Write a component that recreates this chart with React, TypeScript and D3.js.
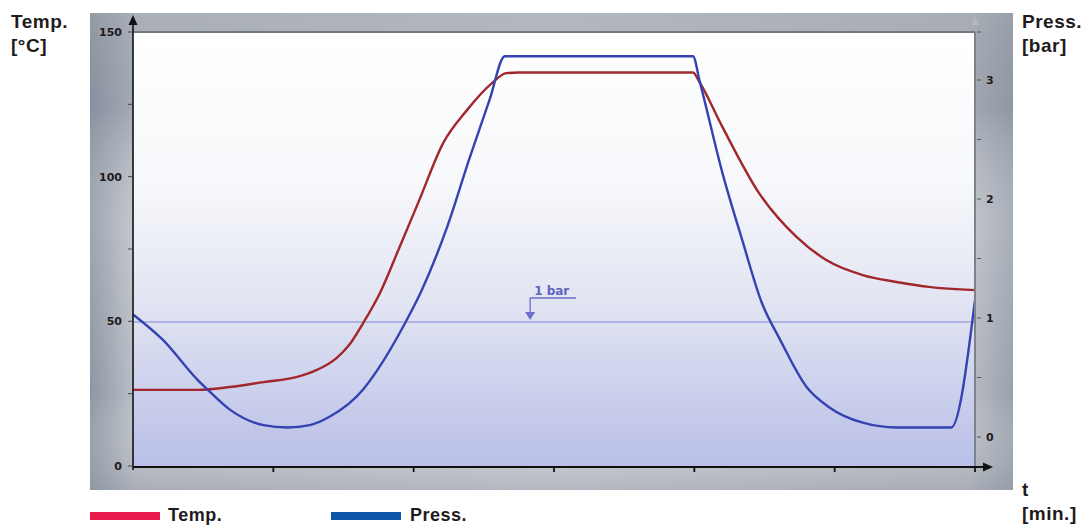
import React from "react";
import * as d3 from "d3";

// ---- data ----
const tempTime = [0, 0.46, 0.69, 0.93, 1.17, 1.31, 1.45, 1.54, 1.64, 1.76, 1.9, 2.04, 2.21, 2.38, 2.56, 2.66, 2.75, 3.99, 4.04, 4.2, 4.46, 4.73, 4.94, 5.2, 5.44, 5.67, 6.0];
const tempValues = [26.3, 26.3, 27.3, 29, 30.8, 33.2, 37.3, 41.8, 49.4, 59.8, 75.7, 91.9, 111.6, 123, 132.4, 135.8, 136, 136, 132.4, 117.2, 94.4, 79.1, 71.2, 66, 63.6, 61.9, 60.8];

const pressTime = [0, 0.21, 0.46, 0.53, 0.69, 0.93, 1.1, 1.26, 1.4, 1.64, 1.74, 1.94, 2.06, 2.24, 2.4, 2.54, 2.65, 3.99, 4.04, 4.2, 4.34, 4.48, 4.61, 4.8, 4.96, 5.2, 5.44, 5.83, 6.0];
const pressValues = [1.03, 0.82, 0.48, 0.4, 0.23, 0.1, 0.08, 0.1, 0.17, 0.4, 0.56, 0.96, 1.24, 1.77, 2.35, 2.83, 3.2, 3.2, 2.98, 2.22, 1.66, 1.13, 0.82, 0.42, 0.25, 0.12, 0.08, 0.08, 1.15];

const tempTicks = [0, 25, 50, 75, 100, 125, 150];
const tempTickLabels = ["0", "", "50", "", "100", "", "150"];
const pressTicks = [0, 0.5, 1, 1.5, 2, 2.5, 3];
const pressTickLabels = ["0", "", "1", "", "2", "", "3"];
const timeTicks = [1, 2, 3, 4, 5, 6];
const refPressure = 1;
const refLabel = "1 bar";

const seriesNames = ["Temp.", "Press."];

export default function App() {
  const W = 1087, H = 526;
  const x0 = 133, x1 = 975, yTop = 32, yBot = 466;
  const x = d3.scaleLinear().domain([0, 6]).range([x0, x1]);
  const yT = d3.scaleLinear().domain([0, 150]).range([yBot, yTop]);
  const yP = d3.scaleLinear().domain([0, 3]).range([437, 80]);

  const tempLine = d3.line<number>()
    .x((_, i) => x(tempTime[i]))
    .y((d) => yT(d))
    .curve(d3.curveMonotoneX)(tempValues) as string;
  const pressLine = d3.line<number>()
    .x((_, i) => x(pressTime[i]))
    .y((d) => yP(d))
    .curve(d3.curveMonotoneX)(pressValues) as string;

  const refY = yP(refPressure) + 4;
  const refX = x(2.83);
  const tickFont = "'DejaVu Sans', sans-serif";
  const headFont = "'Liberation Sans', Arial, Helvetica, sans-serif";
  const dark = "#1f1b1c";

  return (
    <svg width={W} height={H} style={{ position: "absolute", left: 0, top: 0, display: "block" }}>
      <defs>
        <linearGradient id="panelH" x1="0" x2="1" y1="0" y2="0">
          <stop offset="0" stopColor="#8d96a5" />
          <stop offset="0.05" stopColor="#bcc0c7" />
          <stop offset="0.5" stopColor="#cdd0d5" />
          <stop offset="0.95" stopColor="#b9bdc4" />
          <stop offset="1" stopColor="#9aa1ad" />
        </linearGradient>
        <linearGradient id="panelV" x1="0" x2="0" y1="0" y2="1">
          <stop offset="0" stopColor="#9aa0a8" stopOpacity="0.5" />
          <stop offset="0.2" stopColor="#7c8595" stopOpacity="0.35" />
          <stop offset="0.45" stopColor="#ffffff" stopOpacity="0.15" />
          <stop offset="0.8" stopColor="#ffffff" stopOpacity="0.0" />
          <stop offset="1" stopColor="#8e95a0" stopOpacity="0.4" />
        </linearGradient>
        <linearGradient id="plotBg" x1="0" x2="0" y1="0" y2="1">
          <stop offset="0" stopColor="#ffffff" />
          <stop offset="0.35" stopColor="#f7f8fb" />
          <stop offset="0.65" stopColor="#dfe2f1" />
          <stop offset="1" stopColor="#b9bfe8" />
        </linearGradient>
      </defs>

      {/* panel */}
      <rect x={90} y={13} width={923} height={477} fill="url(#panelH)" />
      <rect x={90} y={13} width={923} height={477} fill="url(#panelV)" />
      {/* plot area */}
      <rect x={x0} y={yTop} width={x1 - x0} height={yBot - yTop} fill="url(#plotBg)" />
      <line x1={x0} x2={x1} y1={yTop} y2={yTop} stroke="#737982" strokeWidth={2} />

      {/* reference 1 bar line */}
      <line x1={x0} x2={x1} y1={refY} y2={refY} stroke="#8484d6" strokeWidth={1.2} />
      <g stroke="#6f6fc8" fill="#6f6fc8">
        <polyline points={`${refX + 46},${refY - 24} ${refX},${refY - 24} ${refX},${refY - 8}`} fill="none" strokeWidth={1.3} />
        <path d={`M${refX - 5},${refY - 10} L${refX + 5},${refY - 10} L${refX},${refY - 2} Z`} stroke="none" />
      </g>
      <text x={refX + 4} y={refY - 27} fontFamily={tickFont} fontWeight="bold" fontSize={12} fill="#6262c0">{refLabel}</text>

      {/* series */}
      <path d={tempLine} fill="none" stroke="#a1272c" strokeWidth={2.4} strokeLinejoin="round" />
      <path d={pressLine} fill="none" stroke="#3442b2" strokeWidth={2.4} strokeLinejoin="round" />

      {/* right axis */}
      <line x1={x1} x2={x1} y1={yTop} y2={yBot} stroke="#7d828b" strokeWidth={2} />
      <path d={`M${x1 - 4},${25} L${x1 + 4},${25} L${x1},${16} Z`} fill="#b4b8bf" />
      {pressTicks.map((t, i) => (
        <g key={"p" + i}>
          <line x1={x1 + 2} x2={x1 + 6} y1={yP(t)} y2={yP(t)} stroke="#555" strokeWidth={1} />
          {pressTickLabels[i] && (
            <text x={986} y={yP(t)} dy="0.35em" fontFamily={tickFont} fontWeight="bold" fontSize={11} fill={dark}>{pressTickLabels[i]}</text>
          )}
        </g>
      ))}
      <line x1={x1 + 2} x2={x1 + 6} y1={yTop} y2={yTop} stroke="#555" strokeWidth={1} />

      {/* left axis */}
      <line x1={x0} x2={x0} y1={yBot + 4} y2={22} stroke="#111" strokeWidth={1.6} />
      <path d={`M${x0 - 4.5},${25} L${x0 + 4.5},${25} L${x0},${15} Z`} fill="#111" />
      {tempTicks.map((t, i) => (
        <g key={"t" + i}>
          <line x1={x0 - 5} x2={x0} y1={yT(t)} y2={yT(t)} stroke="#444" strokeWidth={1} />
          {tempTickLabels[i] && (
            <text x={122} y={yT(t)} dy="0.35em" textAnchor="end" fontFamily={tickFont} fontWeight="bold" fontSize={11} fill={dark}>{tempTickLabels[i]}</text>
          )}
        </g>
      ))}

      {/* bottom axis */}
      <line x1={x0} x2={984} y1={yBot + 1} y2={yBot + 1} stroke="#111" strokeWidth={1.8} />
      <path d={`M${983},${yBot - 3.5} L${983},${yBot + 5.5} L${993},${yBot + 1} Z`} fill="#111" />
      {timeTicks.map((t) => (
        <line key={"x" + t} x1={x(t)} x2={x(t)} y1={yBot + 1} y2={yBot + 6} stroke="#111" strokeWidth={1.8} />
      ))}

      {/* axis titles */}
      <g fontFamily={headFont} fontWeight="bold" fontSize={19} fill={dark} letterSpacing={0.5}>
        <text x={11} y={28}>Temp.</text>
        <text x={11} y={52}>[°C]</text>
        <text x={1022} y={28}>Press.</text>
        <text x={1022} y={52}>[bar]</text>
        <text x={1022} y={496}>t</text>
        <text x={1022} y={520}>[min.]</text>
      </g>

      {/* legend */}
      <rect x={90} y={512} width={70} height={8} fill="#e8194b" />
      <text x={168} y={521} fontFamily={headFont} fontWeight="bold" fontSize={18} fill={dark} letterSpacing={0.5}>{seriesNames[0]}</text>
      <rect x={331} y={512} width={70} height={8} fill="#0d55a8" />
      <text x={410} y={521} fontFamily={headFont} fontWeight="bold" fontSize={18} fill={dark} letterSpacing={0.5}>{seriesNames[1]}</text>
    </svg>
  );
}
